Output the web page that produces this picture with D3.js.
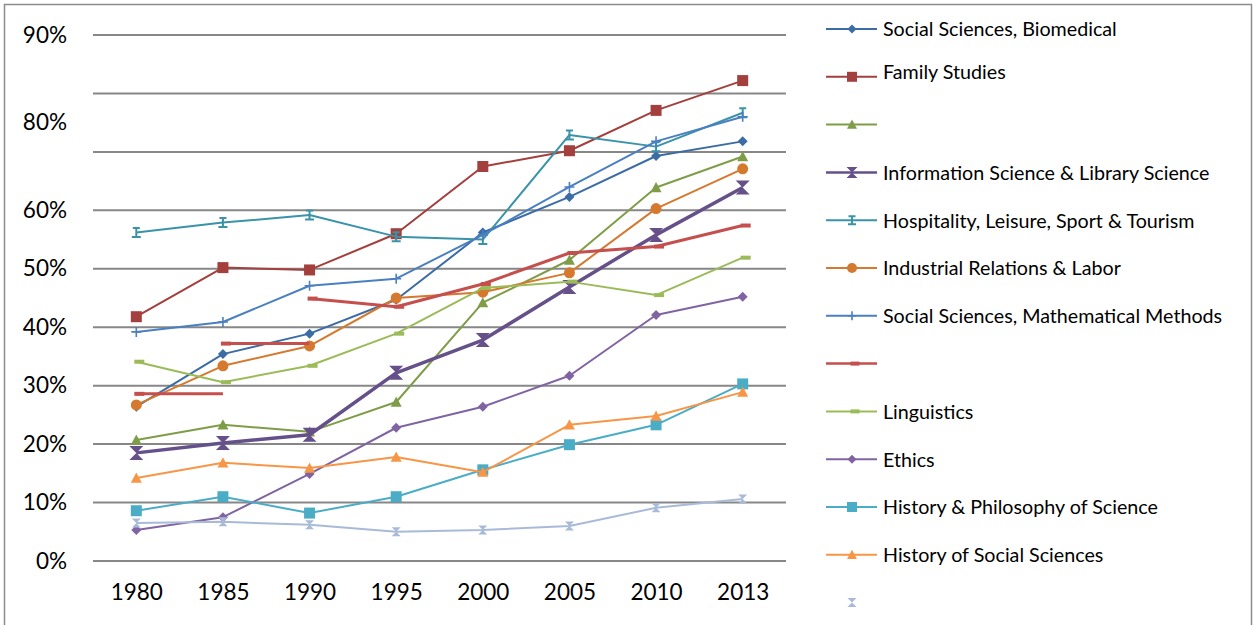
<!DOCTYPE html>
<html>
<head>
<meta charset="utf-8">
<script src="https://cdn.jsdelivr.net/npm/d3@7"></script>
<style>
  html, body { margin: 0; padding: 0; background: #fff; }
  svg { display: block; }
  text { font-family: Lato, "Open Sans", sans-serif; fill: #000; }
</style>
</head>
<body>
<svg id="chart" width="1253" height="625"></svg>
<script>
// Category axis and tick labels
const years = ["1980", "1985", "1990", "1995", "2000", "2005", "2010", "2013"];
const yTickValues = [0, 10, 20, 30, 40, 50, 60, 75, 90];
const yTickLabels = ["0%", "10%", "20%", "30%", "40%", "50%", "60%", "80%", "90%"];
const gridValues = [0, 10, 20, 30, 40, 50, 60, 70, 80, 90];

// Share (%) per field and year
const biomedical   = [26.4, 35.4, 38.9, 44.7, 56.2, 62.3, 69.3, 71.8];
const familyStudies = [41.8, 50.2, 49.8, 56.0, 67.5, 70.2, 77.1, 82.2];
const greenSeries  = [20.7, 23.3, 22.1, 27.2, 44.2, 51.5, 63.9, 69.2];
const infoScience  = [18.5, 20.2, 21.6, 32.2, 37.8, 46.9, 55.8, 63.9];
const hospitality  = [56.2, 57.9, 59.2, 55.5, 55.0, 72.9, 70.9, 76.7];
const industrial   = [26.7, 33.4, 36.8, 45.0, 46.0, 49.3, 60.3, 67.1];
const mathMethods  = [39.2, 40.9, 47.1, 48.3, 55.8, 64.0, 71.8, 76.0];
const redSeries    = [28.6, 37.2, 44.9, 43.5, 47.4, 52.7, 53.8, 57.4];
const redHeldYears = ["1980", "1985"];   // value carried flat to the next year
const linguistics  = [34.1, 30.6, 33.4, 38.9, 46.7, 47.8, 45.5, 51.9];
const ethics       = [5.3, 7.5, 14.9, 22.8, 26.4, 31.7, 42.1, 45.2];
const histPhil     = [8.6, 11.0, 8.2, 11.0, 15.6, 19.9, 23.3, 30.3];
const histSocial   = [14.2, 16.8, 15.9, 17.8, 15.2, 23.3, 24.8, 28.9];
const paleSeries   = [6.5, 6.7, 6.2, 5.0, 5.3, 6.0, 9.1, 10.6];

const seriesNames = [
  "Social Sciences, Biomedical", "Family Studies", "",
  "Information Science & Library Science", "Hospitality, Leisure, Sport & Tourism",
  "Industrial Relations & Labor", "Social Sciences, Mathematical Methods", "",
  "Linguistics", "Ethics", "History & Philosophy of Science",
  "History of Social Sciences", ""
];
const seriesValues = [biomedical, familyStudies, greenSeries, infoScience, hospitality,
  industrial, mathMethods, redSeries, linguistics, ethics, histPhil, histSocial, paleSeries];

// Drawing style per series
const styles = [
  { color: "#3b6ca6", marker: "diamond",   size: 10, width: 2 },
  { color: "#a33f3c", marker: "square",    size: 11, width: 2 },
  { color: "#7f9d48", marker: "triangle",  size: 11, width: 2 },
  { color: "#65508a", marker: "hourglass", size: 14, width: 3.5 },
  { color: "#3a93a9", marker: "ibeam",     size: 9,  width: 2 },
  { color: "#d5792f", marker: "circle",    size: 11, width: 2 },
  { color: "#4a7fc1", marker: "plus",      size: 10, width: 2 },
  { color: "#c44f4c", marker: "dash",      size: 10, width: 3 },
  { color: "#9bbb59", marker: "dash",      size: 10, width: 2 },
  { color: "#8064a2", marker: "diamond",   size: 10, width: 2 },
  { color: "#4bacc6", marker: "square",    size: 11, width: 2 },
  { color: "#f79646", marker: "triangle",  size: 11, width: 2 },
  { color: "#a9bad8", marker: "hourglass", size: 9,  width: 2, noLegendLine: true }
];

const svg = d3.select("#chart");

// Outer frame
svg.append("rect")
  .attr("x", 4.5).attr("y", 4.5)
  .attr("width", 1247).attr("height", 660)
  .attr("fill", "none").attr("stroke", "#8c8c8c").attr("stroke-width", 1.5);

const plot = { left: 93, right: 786, top: 35, bottom: 561 };

const x = d3.scalePoint().domain(years).range([plot.left, plot.right]).padding(0.5);
const y = d3.scaleLinear().domain([0, 90]).range([plot.bottom, plot.top]);

// Horizontal gridlines
svg.append("g").selectAll("line").data(gridValues).join("line")
  .attr("x1", plot.left).attr("x2", plot.right)
  .attr("y1", d => y(d)).attr("y2", d => y(d))
  .attr("stroke", "#878787").attr("stroke-width", 2);

// Y axis labels
const yAxis = d3.axisLeft(y).tickValues(yTickValues)
  .tickFormat((d, i) => yTickLabels[i]).tickSize(0).tickPadding(0);
const gy = svg.append("g").attr("transform", "translate(67,0)").call(yAxis);
gy.select(".domain").remove();
gy.selectAll("text").attr("font-size", 22.5).attr("font-family", "Lato, sans-serif").attr("fill", "#000");

// X axis labels
const xAxis = d3.axisBottom(x).tickSize(0).tickPadding(0);
const gx = svg.append("g").attr("transform", "translate(0,584)").call(xAxis);
gx.select(".domain").remove();
gx.selectAll("text").attr("font-size", 22.5).attr("font-family", "Lato, sans-serif").attr("fill", "#000");

// Marker shapes
function markerPath(type, s) {
  const h = s / 2;
  switch (type) {
    case "diamond": return `M0,${-h}L${h},0L0,${h}L${-h},0Z`;
    case "square": return `M${-h},${-h}H${h}V${h}H${-h}Z`;
    case "triangle": return `M0,${-h}L${h},${h * 0.85}L${-h},${h * 0.85}Z`;
    case "hourglass": return `M${-h},${-h}L${h},${-h}L${-h},${h}L${h},${h}Z`;
    default: return null;
  }
}

function drawMarker(g, type, cx, cy, s, color) {
  const h = s / 2;
  if (type === "circle") {
    g.append("circle").attr("cx", cx).attr("cy", cy).attr("r", h).attr("fill", color);
  } else if (type === "plus") {
    g.append("path").attr("d", `M${cx - h},${cy}H${cx + h}M${cx},${cy - h}V${cy + h}`)
      .attr("stroke", color).attr("stroke-width", 1.6).attr("fill", "none");
  } else if (type === "ibeam") {
    g.append("path")
      .attr("d", `M${cx - 3.5},${cy - h}H${cx + 3.5}M${cx},${cy - h}V${cy + h}M${cx - h},${cy + h}H${cx + h}`)
      .attr("stroke", color).attr("stroke-width", 2).attr("fill", "none");
  } else if (type === "dash") {
    g.append("rect").attr("x", cx - h + 3).attr("y", cy - 2).attr("width", s).attr("height", 4)
      .attr("fill", color);
  } else {
    g.append("path").attr("d", markerPath(type, s)).attr("transform", `translate(${cx},${cy})`)
      .attr("fill", color);
  }
}

const lineGen = d3.line().x(d => x(d[0])).y(d => y(d[1]));

// Series lines and markers
seriesValues.forEach((vals, si) => {
  const st = styles[si];
  const g = svg.append("g");
  const pts = years.map((yr, i) => [yr, vals[i]]);
  let segments;
  if (vals === redSeries) {
    segments = [];
    const current = [];
    pts.forEach((p, i) => {
      if (redHeldYears.includes(p[0]) && i < pts.length - 1) {
        segments.push([p, [years[i + 1], p[1]]]);
      } else {
        current.push(p);
      }
    });
    segments.push(current);
  } else {
    segments = [pts];
  }
  segments.forEach(seg => {
    g.append("path").attr("d", lineGen(seg)).attr("fill", "none")
      .attr("stroke", st.color).attr("stroke-width", st.width).attr("stroke-linejoin", "round");
  });
  pts.forEach(p => drawMarker(g, st.marker, x(p[0]), y(p[1]), st.size, st.color));
});

// Legend
const legend = svg.append("g");
seriesNames.forEach((name, i) => {
  const st = styles[i];
  const ly = 29 + i * 47.8;
  if (!st.noLegendLine) {
    legend.append("line").attr("x1", 826).attr("x2", 877).attr("y1", ly).attr("y2", ly)
      .attr("stroke", st.color).attr("stroke-width", st.width > 2.5 ? 2.5 : 2);
  }
  const legendSize = st.marker === "hourglass" ? Math.min(st.size, 11) : st.size - 1;
  drawMarker(legend, st.marker, 852, ly, legendSize, st.color);
  if (name) {
    legend.append("text").attr("x", 883).attr("y", ly + (i === 1 ? -5 : 0))
      .attr("dy", "0.38em").attr("font-size", 19.7).text(name);
  }
});
</script>
</body>
</html>
